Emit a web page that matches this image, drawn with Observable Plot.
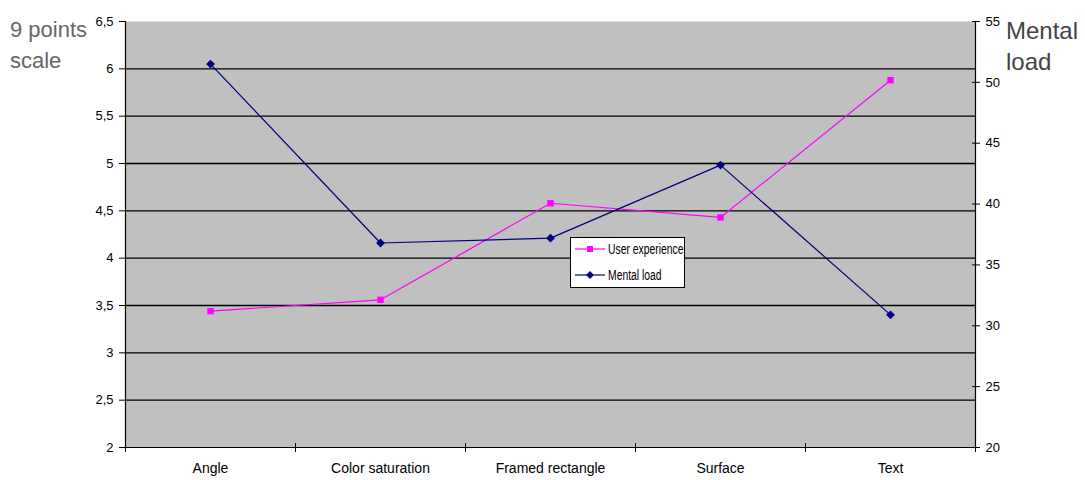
<!DOCTYPE html>
<html>
<head>
<meta charset="utf-8">
<script src="https://cdn.jsdelivr.net/npm/d3@7"></script>
<script src="https://cdn.jsdelivr.net/npm/@observablehq/plot@0.6"></script>
<style>
  html, body { margin: 0; padding: 0; background: #fff; }
  #wrap { position: relative; width: 1085px; height: 480px; font-family: "Liberation Sans", Arial, sans-serif; }
  .ytitle { position: absolute; font-size: 22px; line-height: 31px; }
  #ltitle { left: 10px; top: 14px; color: #666; }
  #rtitle { left: 1006px; top: 15px; color: #444; font-size: 24px; }
  #legend { position: absolute; left: 570px; top: 237px; width: 115px; height: 51px; background: #fff; border: 1px solid #000; box-sizing: border-box; font-size: 14px; }
  .li { position: absolute; left: 4px; display: flex; align-items: center; height: 16px; white-space: nowrap; }
  .li svg { margin-right: 3px; flex: none; }
  .li span { display: inline-block; transform: scaleX(0.74); transform-origin: left center; }
</style>
</head>
<body>
<div id="wrap">
  <div id="chart"></div>
  <div id="ltitle" class="ytitle">9 points<br>scale</div>
  <div id="rtitle" class="ytitle">Mental<br>load</div>
  <div id="legend">
    <div class="li" style="top:3px"><svg width="30" height="10"><line x1="0" y1="5" x2="30" y2="5" stroke="#ff00ff" stroke-width="1.2"/><rect x="12" y="2" width="6" height="6" fill="#ff00ff"/></svg><span>User experience</span></div>
    <div class="li" style="top:29px"><svg width="30" height="10"><line x1="0" y1="5" x2="30" y2="5" stroke="#000080" stroke-width="1.2"/><path d="M15,1 L19,5 L15,9 L11,5 Z" fill="#000080"/></svg><span>Mental load</span></div>
  </div>
</div>
<script>
const categories = ["Angle", "Color saturation", "Framed rectangle", "Surface", "Text"];
const userExperience = [3.44, 3.56, 4.58, 4.43, 5.88];
const mentalLoad = [51.5, 36.8, 37.2, 43.2, 30.9];
const leftTicks = [2, 2.5, 3, 3.5, 4, 4.5, 5, 5.5, 6, 6.5];
const rightTicks = [20, 25, 30, 35, 40, 45, 50, 55];

const L0 = 2, L1 = 6.5, R0 = 20, R1 = 55;
const toLeft = v => L0 + (v - R0) * (L1 - L0) / (R1 - R0);
const fromLeft = v => Math.round(R0 + (v - L0) * (R1 - R0) / (L1 - L0));

const ue = categories.map((c, i) => ({x: i + 0.5, v: userExperience[i]}));
const ml = categories.map((c, i) => ({x: i + 0.5, v: toLeft(mentalLoad[i])}));
const comma = d => String(d).replace(".", ",");

const chart = Plot.plot({
  width: 1085,
  height: 480,
  marginLeft: 125,
  marginRight: 110,
  marginTop: 21,
  marginBottom: 33,
  style: {fontFamily: "'Liberation Sans', Arial, sans-serif", fontSize: "13px", color: "#000", background: "transparent"},
  x: {domain: [0, categories.length], axis: null},
  y: {domain: [L0, L1], axis: null},
  marks: [
    Plot.frame({fill: "#c0c0c0", stroke: "none"}),
    Plot.ruleY(leftTicks.slice(1, -1), {stroke: "#000", strokeWidth: 1.3}),
    Plot.ruleX([0, categories.length], {stroke: "#000", strokeWidth: 1.2}),
    Plot.ruleY([L0], {stroke: "#000", strokeWidth: 1.2}),
    Plot.axisY(leftTicks, {anchor: "left", label: null, tickSize: 6, tickPadding: 6, tickFormat: comma, fontSize: 13}),
    Plot.axisY(rightTicks.map(toLeft), {anchor: "right", label: null, tickSize: 8, dx: -4, tickFormat: () => ""}),
    Plot.axisY(rightTicks.map(toLeft), {anchor: "right", label: null, tickSize: 0, tickPadding: 10, tickFormat: fromLeft, fontSize: 13}),
    Plot.axisX(d3.range(categories.length + 1), {anchor: "bottom", label: null, tickSize: 9, dy: -4, tickFormat: () => ""}),
    Plot.axisX(categories.map((c, i) => i + 0.5), {anchor: "bottom", label: null, tickSize: 0, tickPadding: 16, tickFormat: v => categories[Math.floor(v)], fontSize: 14}),
    Plot.line(ue, {x: "x", y: "v", stroke: "#ff00ff", strokeWidth: 1.2}),
    Plot.dot(ue, {x: "x", y: "v", symbol: "square", r: 3.6, fill: "#ff00ff", stroke: "none"}),
    Plot.line(ml, {x: "x", y: "v", stroke: "#000080", strokeWidth: 1.2}),
    Plot.dot(ml, {x: "x", y: "v", symbol: "diamond2", r: 4, fill: "#000080", stroke: "none"})
  ]
});
document.getElementById("chart").appendChild(chart);
</script>
</body>
</html>
